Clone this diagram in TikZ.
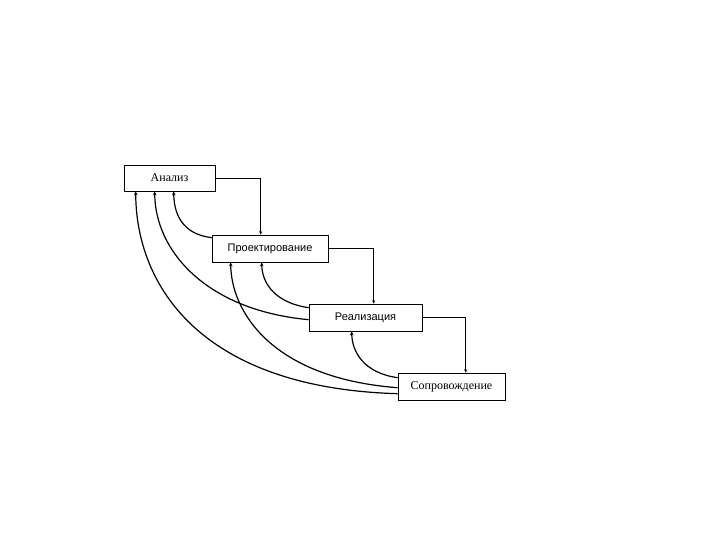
\documentclass[tikz,border=0pt]{standalone}
\usepackage{fontspec}
\setmainfont{Liberation Serif}
\newfontfamily\boxsans{Liberation Sans}
\usetikzlibrary{arrows.meta,calc}
\tikzset{
  stagebox/.style={draw, line width=0.6pt, inner sep=0pt},
  elbow/.style={line width=0.6pt, -{Stealth[length=3.5pt,width=3pt]}},
  back/.style={line width=1.2pt, -{Stealth[length=4pt,width=3.5pt]}}
}
\begin{document}
\begin{tikzpicture}[x=1pt,y=-1pt]
\useasboundingbox (0,0) rectangle (720,540);
\node[stagebox, minimum width=91pt, minimum height=26pt, font=\fontsize{12}{14}\selectfont] (a) at (169.5,178) {Анализ};
\node[stagebox, minimum width=116pt, minimum height=27pt, font=\boxsans\fontsize{11}{13}\selectfont] (p) at (270,248.5) {Проектирование};
\node[stagebox, minimum width=113pt, minimum height=27pt, font=\boxsans\fontsize{11}{13}\selectfont] (r) at (365.5,317.5) {Реализация};
\node[stagebox, minimum width=107pt, minimum height=27pt, font=\fontsize{12}{14}\selectfont] (s) at (451.5,386.5) {Сопровождение};
% forward elbows
\draw[elbow] (a.east) -| ($(p.north west)+(49,0)$);
\draw[elbow] (p.east) -| ($(r.north west)+(65,0)$);
\draw[elbow] (r.east) -| ($(s.north west)+(68,0)$);
% feedback curves
\draw[back] ($(p.north west)+(0,3)$) .. controls (182,234) and (174,214) .. ($(a.south west)+(50,0)$);
\draw[back] ($(r.north west)+(0,4)$) .. controls (276,303) and (262,284) .. ($(p.south west)+(50,0)$);
\draw[back] ($(s.north west)+(0,5)$) .. controls (364,373) and (352,352) .. ($(r.south west)+(43,0)$);
\draw[back] ($(r.north west)+(0,16)$) .. controls (205,310) and (155,250) .. ($(a.south west)+(31,0)$);
\draw[back] ($(s.north west)+(0,15)$) .. controls (270,378) and (231,310) .. ($(p.south west)+(19,0)$);
\draw[back] ($(s.north west)+(0,21)$) .. controls (200,388) and (136,285) .. ($(a.south west)+(12,0)$);
\end{tikzpicture}
\end{document}
